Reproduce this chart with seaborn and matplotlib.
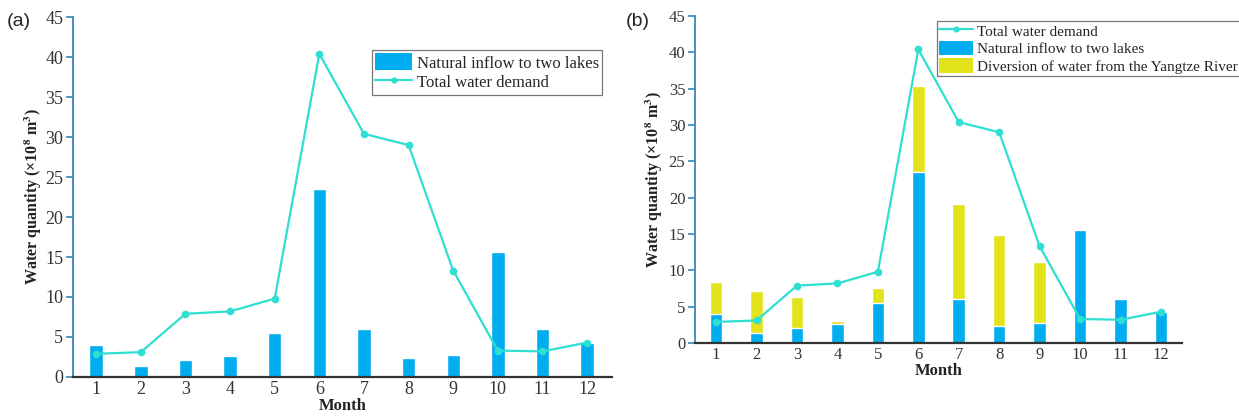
import matplotlib
matplotlib.use("Agg")
import matplotlib.pyplot as plt
import seaborn as sns
import pandas as pd
from matplotlib.patches import Patch
from matplotlib.lines import Line2D

months = [1, 2, 3, 4, 5, 6, 7, 8, 9, 10, 11, 12]
natural_inflow = [3.95, 1.4, 2.1, 2.65, 5.5, 23.55, 6.0, 2.35, 2.75, 15.6, 6.0, 4.2]
diversion = [4.4, 5.75, 4.2, 0.4, 2.1, 11.8, 13.1, 12.45, 8.35, 0.0, 0.0, 0.0]
total_demand = [2.9, 3.1, 7.9, 8.2, 9.8, 40.4, 30.4, 29.0, 13.3, 3.3, 3.2, 4.3]
yticks = [0, 5, 10, 15, 20, 25, 30, 35, 40, 45]

lbl_nat = "Natural inflow to two lakes"
lbl_dem = "Total water demand"
lbl_div = "Diversion of water from the Yangtze River"

BLUE = "#00AEEF"
CYAN = "#2EDFD2"
YELLOW = "#E3E31C"
SPINE = "#3A86B8"

sns.set_theme(style="white")
plt.rcParams["font.family"] = ["Liberation Serif", "DejaVu Serif"]
plt.rcParams["mathtext.fontset"] = "stix"

df = pd.DataFrame({"month": months, "natural": natural_inflow,
                   "diversion": diversion, "demand": total_demand})
df["stack_total"] = df["natural"] + df["diversion"]

fig = plt.figure(figsize=(12.39, 4.16), dpi=100)
axa = fig.add_axes([0.0589, 0.0938, 0.4351, 0.8652])
axb = fig.add_axes([0.561, 0.1755, 0.393, 0.786])

def style(ax, xlim, ticksize):
    ax.set_xlim(*xlim)
    ax.set_ylim(0, 45)
    ax.set_yticks(yticks)
    ax.set_xticks(months)
    ax.set_xticklabels([str(m) for m in months])
    for s in ["top", "right"]:
        ax.spines[s].set_visible(False)
    ax.spines["left"].set_color(SPINE)
    ax.spines["left"].set_linewidth(1.3)
    ax.spines["bottom"].set_color("#333333")
    ax.spines["bottom"].set_linewidth(1.6)
    ax.tick_params(axis="y", direction="out", length=5, width=1.2, color=SPINE,
                   labelsize=ticksize, labelcolor="#333333", pad=2, left=True)
    ax.tick_params(axis="x", length=0, labelsize=ticksize, labelcolor="#333333", pad=3)
    ax.set_ylabel("Water quantity (×10$^{\\mathbf{8}}$ m$^{\\mathbf{3}}$)",
                  fontsize=11.5, fontweight="bold", color="#222222")
    ax.set_xlabel("Month", fontsize=12, fontweight="bold", color="#222222", labelpad=0)
    ax.grid(False)

# Panel (a)
sns.barplot(data=df, x="month", y="natural", native_scale=True, width=0.3,
            color=BLUE, saturation=1, ax=axa, errorbar=None, zorder=1)
sns.lineplot(data=df, x="month", y="demand", color=CYAN, marker="o",
             markersize=5.5, markeredgewidth=0, linewidth=1.6, ax=axa, zorder=3)
style(axa, (0.48, 12.56), 13)
axa.yaxis.set_label_coords(-0.054, 0.5)
h_a = [Patch(facecolor=BLUE, edgecolor="none"),
       Line2D([], [], color=CYAN, marker="o", markersize=4.5, markeredgewidth=0, linewidth=1.6)]
leg = axa.legend(h_a, [lbl_nat, lbl_dem], loc="upper left",
                 bbox_to_anchor=(372 / 1239, 1 - 50 / 416), bbox_transform=fig.transFigure,
                 fontsize=12, frameon=True, fancybox=False, edgecolor="#777777",
                 framealpha=1, borderpad=0.2, handlelength=2.2, handleheight=1.2,
                 handletextpad=0.3, labelspacing=0.1, borderaxespad=0)
leg.get_frame().set_linewidth(0.9)

# Panel (b)
sns.barplot(data=df, x="month", y="stack_total", native_scale=True, width=0.31,
            color=YELLOW, saturation=1, ax=axb, errorbar=None, zorder=1)
sns.barplot(data=df, x="month", y="natural", native_scale=True, width=0.31,
            color=BLUE, saturation=1, ax=axb, errorbar=None, zorder=1.5)
sns.lineplot(data=df, x="month", y="demand", color=CYAN, marker="o",
             markersize=5.5, markeredgewidth=0, linewidth=1.6, ax=axb, zorder=3)
style(axb, (0.48, 12.52), 12)
axb.yaxis.set_label_coords(-0.062, 0.5)
h_b = [Line2D([], [], color=CYAN, marker="o", markersize=4.5, markeredgewidth=0, linewidth=1.6),
       Patch(facecolor=BLUE, edgecolor="none"),
       Patch(facecolor=YELLOW, edgecolor="none")]
leg = axb.legend(h_b, [lbl_dem, lbl_nat, lbl_div], loc="upper left",
                 bbox_to_anchor=(937 / 1239, 1 - 21 / 416), bbox_transform=fig.transFigure,
                 fontsize=11, frameon=True, fancybox=False, edgecolor="#777777",
                 framealpha=1, borderpad=0.15, handlelength=2.2, handleheight=1.05,
                 handletextpad=0.3, labelspacing=0.15, borderaxespad=0)
leg.get_frame().set_linewidth(0.9)

fig.text(7 / 1239, 1 - 22 / 416, "(a)", fontsize=14, family=["Liberation Sans", "DejaVu Sans"],
         va="center", ha="left")
fig.text(626 / 1239, 1 - 22 / 416, "(b)", fontsize=14, family=["Liberation Sans", "DejaVu Sans"],
         va="center", ha="left")

fig.savefig("out.png", dpi=100)
